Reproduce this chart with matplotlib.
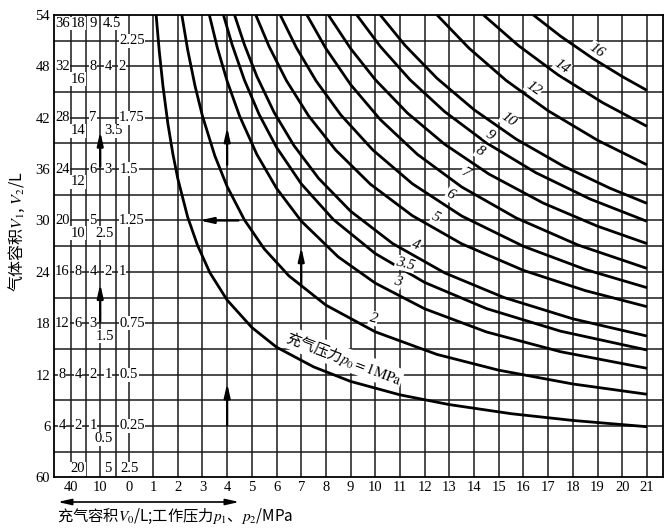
import matplotlib
matplotlib.use("Agg")
import matplotlib.pyplot as plt

plt.rcParams['mathtext.fontset'] = 'stix'
plt.rcParams['font.family'] = ['Liberation Serif', 'DejaVu Serif']

# ---------------- data ----------------
pressure_labels = ["1", "2", "3", "3.5", "4", "5", "6", "7", "8", "9", "10", "12", "14", "16"]

x_p1 = [1.124, 1.25, 1.4, 1.6, 1.8, 2.0, 2.4, 2.8, 3.3, 4, 5, 6, 7.5, 9, 11, 13, 15.5, 18, 21]
v_p1 = [54, 49.8, 45.7, 41.3, 37.8, 34.9, 30.4, 27.1, 23.9, 20.7, 17.5, 15.2, 12.9, 11.2, 9.63, 8.49, 7.43, 6.64, 5.91]
x_p2 = [2.165, 2.4, 2.7, 3.0, 3.5, 4, 4.7, 5.5, 6.5, 8, 10, 12.5, 15, 18, 21]
v_p2 = [54, 49.95, 45.7, 42.2, 37.56, 33.96, 30.06, 26.69, 23.53, 20.11, 16.99, 14.35, 12.51, 10.9, 9.70]
x_p3 = [3.28, 3.6, 4.0, 4.5, 5.2, 6, 7, 8.5, 10, 12, 14.5, 17.5, 21]
v_p3 = [54, 50.2, 46.27, 42.22, 37.73, 33.76, 29.93, 25.74, 22.68, 19.68, 16.98, 14.67, 12.73]
x_p35 = [3.85, 4.2, 4.7, 5.3, 6, 7, 8.3, 10, 12, 14.5, 17.5, 21]
v_p35 = [54, 50.54, 46.39, 42.35, 38.54, 34.28, 30.11, 26.13, 22.76, 19.71, 17.07, 14.87]
x_p4 = [4.3, 4.7, 5.2, 5.9, 6.7, 7.7, 9, 10.7, 12.8, 15.2, 18, 21]
v_p4 = [54, 50.52, 46.85, 42.63, 38.77, 34.93, 31.08, 27.31, 23.89, 21.01, 18.51, 16.5]
x_p5 = [5.16, 5.7, 6.4, 7.3, 8.4, 9.8, 11.5, 13.5, 16, 18.5, 21]
v_p5 = [54, 50.31, 46.34, 42.21, 38.21, 34.24, 30.56, 27.27, 24.17, 21.81, 19.93]
x_p6 = [6.15, 6.8, 7.6, 8.6, 9.9, 11.5, 13.5, 16, 18.5, 21]
v_p6 = [54, 50.2, 46.31, 42.34, 38.23, 34.29, 30.52, 26.98, 24.28, 22.15]
x_p7 = [7.23, 8, 9, 10.2, 11.7, 13.5, 15.7, 18.2, 21]
v_p7 = [54, 50.08, 45.87, 41.79, 37.73, 33.91, 30.3, 27.14, 24.4]
x_p8 = [8.1, 9, 10, 11.3, 12.8, 14.6, 16.8, 19, 21]
v_p8 = [54, 50.08, 46.44, 42.55, 38.92, 35.42, 32.03, 29.33, 27.3]
x_p9 = [9.25, 10.2, 11.4, 12.8, 14.5, 16.5, 18.7, 21]
v_p9 = [54, 50.33, 46.45, 42.73, 39.06, 35.58, 32.5, 29.9]
x_p10 = [10.2, 11.2, 12.5, 14, 15.7, 17.6, 19.5, 21]
v_p10 = [54, 50.46, 46.6, 42.93, 39.51, 36.37, 33.77, 32.0]
x_p12 = [12.5, 13.8, 15.3, 17, 19, 21]
v_p12 = [54, 50.11, 46.35, 42.81, 39.37, 36.5]
x_p14 = [14.38, 15.8, 17.4, 19.2, 21]
v_p14 = [54, 50.42, 47.01, 43.77, 41.0]
x_p16 = [16.4, 17.5, 18.8, 20, 21]
v_p16 = [54, 51.53, 48.94, 46.81, 45.2]

# curve label positions (x, V) and rotations
label_x = [None, 9.93, 10.9, 11.21, 11.65, 12.46, 13.03, 13.64, 14.25, 14.65, 15.39, 16.41, 17.56, 18.97]
label_v = [None, 18.57, 22.85, 24.92, 27.14, 30.37, 32.98, 35.58, 38.04, 39.99, 41.74, 45.44, 47.97, 49.9]
label_rot = [None, -15, -15, -15, -20, -25, -27, -30, -33, -35, -35, -35, -35, -35]

# left auxiliary scale (V0 columns)
aux_lines = [-2.33, -1.71, -1.14, -0.51, 0.03]
aux_tick_text = ["40", "10", "0"]
main_ticks = list(range(1, 22))
y_ticks = [0, 6, 12, 18, 24, 30, 36, 42, 48, 54]
y_tick_text = ["60", "6", "12", "18", "24", "30", "36", "42", "48", "54"]

aux_text = ["36", "18", "9", "4.5", "2.25",
            "32", "16", "8", "4", "2",
            "28", "14", "7", "3.5", "1.75",
            "24", "12", "6", "3", "1.5",
            "20", "10", "5", "2.5", "1.25",
            "16", "8", "4", "2", "1",
            "12", "6", "3", "1.5", "0.75",
            "8", "4", "2", "1", "0.5",
            "4", "2", "1", "0.5", "0.25",
            "20", "5", "2.5"]
aux_tx = [-2.68, -2.04, -1.43, -0.66, 0.15,
          -2.68, -2.04, -1.43, -0.82, -0.25,
          -2.68, -2.04, -1.43, -0.62, 0.15,
          -2.68, -2.04, -1.43, -0.82, 0.03,
          -2.68, -2.04, -1.43, -0.98, 0.15,
          -2.68, -2.04, -1.43, -0.82, -0.25,
          -2.68, -2.04, -1.43, -0.94, 0.15,
          -2.68, -2.04, -1.43, -0.82, 0.03,
          -2.68, -2.04, -1.43, -1.02, 0.15,
          -2.04, -0.82, 0.03]
aux_ty = [53.0, 53.0, 53.0, 53.0, 51.0,
          48.0, 46.5, 48.0, 48.0, 48.0,
          42.0, 40.5, 42.0, 40.5, 42.0,
          36.0, 34.5, 36.0, 36.0, 36.0,
          30.0, 28.5, 30.0, 28.5, 30.0,
          24.0, 24.0, 24.0, 24.0, 24.0,
          18.0, 18.0, 18.0, 16.5, 18.0,
          12.0, 12.0, 12.0, 12.0, 12.0,
          6.0, 6.0, 6.0, 4.5, 6.0,
          1.0, 1.0, 1.0]

# arrows: (tail_x, tail_y, head_x, head_y)
arrow_tail_x = [4, 4, 7, 4.46, -1.14, -1.14]
arrow_tail_y = [6.1, 36.5, 22.3, 30.0, 36.3, 18.2]
arrow_head_x = [4, 4, 7, 2.88, -1.14, -1.14]
arrow_head_y = [11.0, 40.9, 26.9, 30.0, 40.4, 22.6]

# ---------------- figure ----------------
fig = plt.figure(figsize=(6.72, 5.31), dpi=100)
W, H = 672, 531
ax = fig.add_axes([54.3 / W, 1 - 477.3 / H, (663 - 54.3) / W, (477.3 - 15) / H])
ax.set_xlim(-3.0, 21.65)
ax.set_ylim(0, 54)

gc = '#1a1a1a'
for gx in main_ticks:
    ax.axvline(gx, color=gc, lw=1.1, zorder=1)
for gx in aux_lines:
    ax.axvline(gx, color=gc, lw=1.1, zorder=1)
for gy in range(3, 54, 3):
    ax.axhline(gy, color=gc, lw=1.1, zorder=1)

curves_x = [x_p1, x_p2, x_p3, x_p35, x_p4, x_p5, x_p6, x_p7, x_p8, x_p9, x_p10, x_p12, x_p14, x_p16]
curves_v = [v_p1, v_p2, v_p3, v_p35, v_p4, v_p5, v_p6, v_p7, v_p8, v_p9, v_p10, v_p12, v_p14, v_p16]
for cx, cv in zip(curves_x, curves_v):
    ax.plot(cx, cv, color='black', lw=2.0, zorder=3, solid_capstyle='butt')

for i, lab in enumerate(pressure_labels):
    if label_x[i] is None:
        continue
    ax.text(label_x[i], label_v[i], lab, fontsize=11, style='italic',
            family='Liberation Serif', rotation=label_rot[i],
            ha='center', va='center', zorder=5,
            bbox=dict(facecolor='white', edgecolor='none', pad=0.6))

ax.text(8.71, 13.9, "充气压力$p_0\\mathrm{=1MPa}$", fontsize=10.5,
        family=['Noto Sans CJK SC', 'DejaVu Sans'], rotation=-21,
        ha='center', va='center', zorder=5,
        bbox=dict(facecolor='white', edgecolor='none', pad=0.8))

for t, tx, ty in zip(aux_text, aux_tx, aux_ty):
    ax.text(tx, ty, t, fontsize=10.5, ha='center', va='center', zorder=5,
            family='Liberation Serif',
            bbox=dict(facecolor='white', edgecolor='none', pad=0.3))

for tx0, ty0, hx, hy in zip(arrow_tail_x, arrow_tail_y, arrow_head_x, arrow_head_y):
    ax.annotate('', xy=(hx, hy), xytext=(tx0, ty0), zorder=6,
                arrowprops=dict(arrowstyle='-|>,head_length=0.8,head_width=0.18',
                                color='black', lw=1.6,
                                mutation_scale=10, shrinkA=0, shrinkB=0))

ax.set_xticks([aux_lines[0], aux_lines[2], aux_lines[4]] + main_ticks)
ax.set_xticklabels(aux_tick_text + [str(t) for t in main_ticks], fontsize=10.5,
                   family='Liberation Serif')
ax.set_yticks(y_ticks)
ax.set_yticklabels(y_tick_text, fontsize=10.5, family='Liberation Serif')
ax.tick_params(length=0, pad=3)
for s in ax.spines.values():
    s.set_linewidth(1.3)
    s.set_color('black')
    s.set_zorder(7)

# bottom double arrow and axis titles
fig.patches.append(matplotlib.patches.FancyArrowPatch(
    (55 / W, 1 - 502 / H), (242 / W, 1 - 502 / H), transform=fig.transFigure,
    arrowstyle='<|-|>,head_length=0.8,head_width=0.18', mutation_scale=10,
    color='black', lw=1.2))
fig.text(57 / W, 1 - 516 / H, "充气容积$V_0$/L;工作压力$p_1$、$p_2$/MPa",
         fontsize=11, family=['Noto Sans CJK SC', 'DejaVu Sans'],
         ha='left', va='center')
fig.text(17 / W, 1 - 232 / H, "气体容积$V_1$, $V_2$/L", fontsize=11.5,
         family=['Noto Sans CJK SC', 'DejaVu Sans'], rotation=90,
         ha='center', va='center')

fig.savefig('out.png', dpi=100)
